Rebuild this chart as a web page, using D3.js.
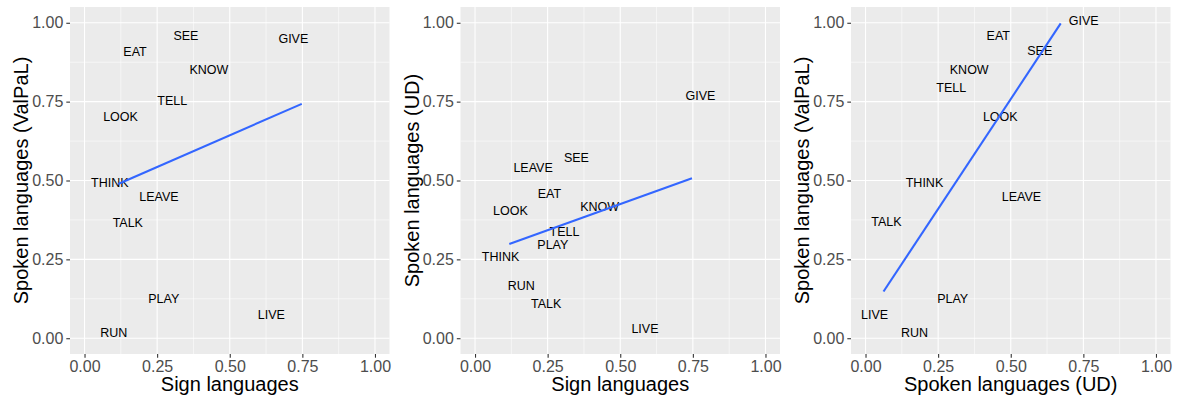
<!DOCTYPE html>
<html>
<head>
<meta charset="utf-8">
<script src="https://cdn.jsdelivr.net/npm/d3@7"></script>
<style>
  body { margin: 0; background: #fff; }
  svg { display: block; font-family: "Liberation Sans", Arial, sans-serif; }
</style>
</head>
<body>
<svg id="chart" width="1183" height="401"></svg>
<script>
// word labels (same order in every panel)
var words = ["SEE", "EAT", "GIVE", "KNOW", "TELL", "LOOK", "THINK", "LEAVE", "TALK", "PLAY", "LIVE", "RUN"];

// panel 1: sign languages vs spoken (ValPaL)
var p1x = [0.349, 0.174, 0.719, 0.428, 0.302, 0.124, 0.087, 0.256, 0.149, 0.273, 0.643, 0.101];
var p1y = [0.960, 0.908, 0.951, 0.851, 0.752, 0.702, 0.492, 0.449, 0.367, 0.126, 0.076, 0.019];
// panel 2: sign languages vs spoken (UD)
var p2x = [0.349, 0.256, 0.776, 0.429, 0.308, 0.122, 0.088, 0.200, 0.245, 0.268, 0.585, 0.159];
var p2y = [0.571, 0.458, 0.770, 0.416, 0.338, 0.405, 0.259, 0.540, 0.110, 0.298, 0.032, 0.167];
// panel 3: spoken (UD) vs spoken (ValPaL)
var p3x = [0.600, 0.457, 0.751, 0.357, 0.295, 0.464, 0.203, 0.537, 0.072, 0.300, 0.031, 0.169];
var p3y = [0.913, 0.960, 1.008, 0.851, 0.794, 0.702, 0.492, 0.449, 0.370, 0.126, 0.076, 0.019];

// linear fit end points [x0, y0, x1, y1]
var fit1 = [0.116, 0.489, 0.748, 0.743];
var fit2 = [0.118, 0.299, 0.747, 0.507];
var fit3 = [0.062, 0.148, 0.672, 0.998];

var xTitles = ["Sign languages", "Sign languages", "Spoken languages (UD)"];
var yTitles = ["Spoken languages (ValPaL)", "Spoken languages (UD)", "Spoken languages (ValPaL)"];
var tickValues = [0, 0.25, 0.5, 0.75, 1];
var minorValues = [0.125, 0.375, 0.625, 0.875];

var panels = [
    {xs: p1x, ys: p1y, fit: fit1},
    {xs: p2x, ys: p2y, fit: fit2},
    {xs: p3x, ys: p3y, fit: fit3}
];

var svg = d3.select("#chart");
var panelLefts = [70, 460.5, 851],
    panelWidth = 319.5,
    panelTop = 7,
    panelBottom = 354;

panels.forEach(function(p, i) {
    var left = panelLefts[i];
    var x = d3.scaleLinear().domain([-0.05, 1.05]).range([left, left + panelWidth]);
    var y = d3.scaleLinear().domain([-0.05, 1.05]).range([panelBottom, panelTop]);

    var g = svg.append("g");

    g.append("rect")
        .attr("x", left).attr("y", panelTop)
        .attr("width", panelWidth).attr("height", panelBottom - panelTop)
        .attr("fill", "#EBEBEB");

    // minor grid
    g.selectAll(".minx").data(minorValues).enter().append("line")
        .attr("x1", function(d) { return x(d); }).attr("x2", function(d) { return x(d); })
        .attr("y1", panelTop).attr("y2", panelBottom)
        .attr("stroke", "#fff").attr("stroke-width", 0.55);
    g.selectAll(".miny").data(minorValues).enter().append("line")
        .attr("y1", function(d) { return y(d); }).attr("y2", function(d) { return y(d); })
        .attr("x1", left).attr("x2", left + panelWidth)
        .attr("stroke", "#fff").attr("stroke-width", 0.55);
    // major grid
    g.selectAll(".majx").data(tickValues).enter().append("line")
        .attr("x1", function(d) { return x(d); }).attr("x2", function(d) { return x(d); })
        .attr("y1", panelTop).attr("y2", panelBottom)
        .attr("stroke", "#fff").attr("stroke-width", 1.1);
    g.selectAll(".majy").data(tickValues).enter().append("line")
        .attr("y1", function(d) { return y(d); }).attr("y2", function(d) { return y(d); })
        .attr("x1", left).attr("x2", left + panelWidth)
        .attr("stroke", "#fff").attr("stroke-width", 1.1);

    // word labels
    g.selectAll(".word").data(words).enter().append("text")
        .attr("x", function(d, j) { return x(p.xs[j]); })
        .attr("y", function(d, j) { return y(p.ys[j]); })
        .attr("dy", "0.35em")
        .attr("text-anchor", "middle")
        .attr("font-size", "12.5px")
        .attr("fill", "#000")
        .text(function(d) { return d; });

    // fit line
    g.append("line")
        .attr("x1", x(p.fit[0])).attr("y1", y(p.fit[1]))
        .attr("x2", x(p.fit[2])).attr("y2", y(p.fit[3]))
        .attr("stroke", "#3366FF").attr("stroke-width", 2.1);

    // axes
    var xAxis = d3.axisBottom(x).tickValues(tickValues).tickSize(3.7).tickPadding(3)
        .tickFormat(d3.format(".2f"));
    var yAxis = d3.axisLeft(y).tickValues(tickValues).tickSize(3.7).tickPadding(3)
        .tickFormat(d3.format(".2f"));

    var gx = g.append("g").attr("transform", "translate(0," + panelBottom + ")").call(xAxis);
    var gy = g.append("g").attr("transform", "translate(" + left + ",0)").call(yAxis);
    [gx, gy].forEach(function(a) {
        a.select(".domain").remove();
        a.selectAll(".tick line").attr("stroke", "#333333").attr("stroke-width", 1.1);
        a.selectAll(".tick text")
            .attr("fill", "#4D4D4D")
            .attr("font-size", "16px")
            .attr("font-family", "\"Liberation Sans\", Arial, sans-serif");
    });

    g.append("text")
        .attr("x", left + panelWidth / 2)
        .attr("y", 391)
        .attr("text-anchor", "middle")
        .attr("font-size", "20px")
        .attr("fill", "#000")
        .text(xTitles[i]);

    g.append("text")
        .attr("transform", "translate(" + (left - 42) + "," + ((panelTop + panelBottom) / 2) + ") rotate(-90)")
        .attr("text-anchor", "middle")
        .attr("font-size", "20px")
        .attr("fill", "#000")
        .text(yTitles[i]);
});
</script>
</body>
</html>
